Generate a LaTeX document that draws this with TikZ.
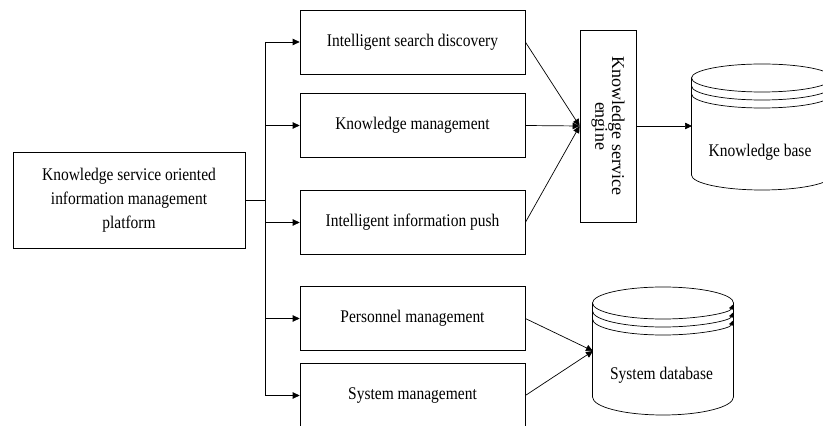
\documentclass[tikz,border=0pt]{standalone}
\usepackage{fontspec}
\setmainfont{Liberation Serif}[FakeStretch=0.87]
\newfontfamily\uprightserif{Liberation Serif}
\usetikzlibrary{arrows.meta,positioning}

\begin{document}
\begin{tikzpicture}[x=1pt, y=1pt, line width=0.7pt,
    box/.style={draw, minimum width=225pt, minimum height=64pt, font=\fontsize{17.8}{21}\selectfont},
    lbl/.style={font=\fontsize{17.8}{21}\selectfont},
    arr/.style={-{Triangle[length=7pt,width=6.5pt]}},
    dbarc/.style={-{Triangle[length=5pt,width=5pt]}}]
    \useasboundingbox (0,0) rectangle (823,426);
    \node[draw, minimum width=232pt, minimum height=96pt, align=center, font=\fontsize{17.8}{24}\selectfont] (platform) at (129,226) {Knowledge service oriented\\information management\\platform};
    \node[box] (search) at (412.5,384) {Intelligent search discovery};
    \node[box] (knowmgmt) at (412.5,300.5) {Knowledge management};
    \node[box] (push) at (412.5,203.5) {Intelligent information push};
    \node[box] (personnel) at (412.5,107.5) {Personnel management};
    \node[box] (sysmgmt) at (412.5,30.5) {System management};
    \node[draw, rotate=-90, minimum width=192pt, minimum height=56pt, align=center, font=\uprightserif\fontsize{18}{15.5}\selectfont] (engine) at (608,300) {Knowledge service\\engine};

    % trunk and branches
    \coordinate (junction) at (265,226);
    \draw (platform.east) -- (junction);
    \draw (junction |- search) -- (junction |- sysmgmt);
    \foreach \b in {search,knowmgmt,push,personnel,sysmgmt}
        \draw[arr] (junction |- \b) -- (\b.west);
    \foreach \b in {search,knowmgmt,push}
        \draw[arr] (\b.east) -- (engine.south);

    % knowledge base
    \coordinate (kbin) at (692,300);
    \draw[arr] (engine.north) -- (kbin);
    \draw (762,348) ellipse [x radius=70.5pt, y radius=14pt];
    \foreach \yy in {340,332}
        \draw (691.5,\yy) arc[start angle=180, end angle=360, x radius=70.5pt, y radius=14pt];
    \draw (691.5,348) -- (691.5,251) arc[start angle=180, end angle=360, x radius=70.5pt, y radius=15pt] -- (832.5,348);
    \node[lbl] (kb) at (760,274) {Knowledge base};

    % system database
    \coordinate (dbin) at (593,75);
    \draw[arr] (personnel.east) -- (dbin);
    \draw[arr] (sysmgmt.east) -- (dbin);
    \draw (592.5,123) arc[start angle=180, end angle=0, x radius=70.5pt, y radius=16pt];
    \foreach \yy in {123,115,107}
        \draw[dbarc] (592.5,\yy) arc[start angle=180, end angle=355, x radius=70.5pt, y radius=16pt];
    \draw (592.5,123) -- (592.5,29) arc[start angle=180, end angle=360, x radius=70.5pt, y radius=18pt] -- (733.5,123);
    \node[lbl] (sysdb) at (661.5,51) {System database};
\end{tikzpicture}
\end{document}
